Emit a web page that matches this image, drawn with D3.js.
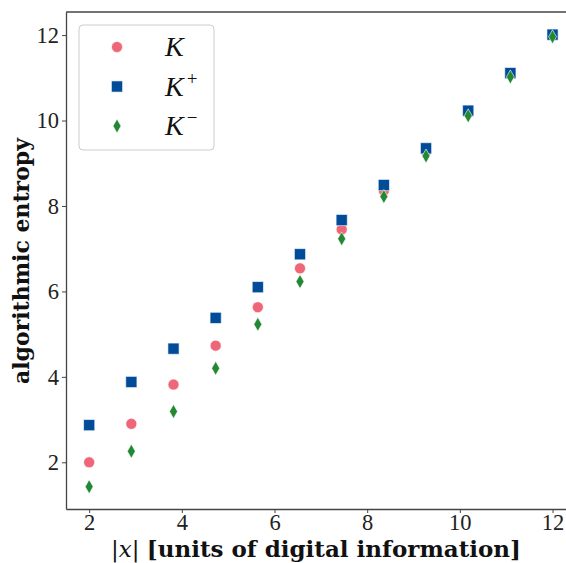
<!DOCTYPE html>
<html>
<head>
<meta charset="utf-8">
<script src="https://cdn.jsdelivr.net/npm/d3@7"></script>
<style>
  body { margin: 0; background: #fff; }
  svg { display: block; }
</style>
</head>
<body>
<script>
// values
var sizes = [2.00, 2.91, 3.82, 4.73, 5.64, 6.55, 7.45, 8.36, 9.27, 10.18, 11.09, 12.00];
var kVals = [2.00, 2.90, 3.82, 4.73, 5.63, 6.54, 7.45, 8.36, 9.27, 10.18, 11.09, 12.00];
var kPlus = [2.87, 3.88, 4.66, 5.38, 6.10, 6.87, 7.67, 8.49, 9.35, 10.23, 11.11, 12.01];
var kMinus = [1.43, 2.26, 3.19, 4.20, 5.23, 6.23, 7.23, 8.22, 9.17, 10.11, 11.02, 11.96];
var xTicks = [2, 4, 6, 8, 10, 12];
var yTicks = [2, 4, 6, 8, 10, 12];
var seriesNames = ["K", "K+", "K\u2212"];

(function(){
    var width = 566, height = 563;
    var margin = {left: 66, top: 12, bottom: 54};

    var svg = d3.select("body").append("svg")
        .attr("width", width)
        .attr("height", height);

    // x scale runs past the right edge of the window, as in the reference
    var x = d3.scaleLinear().domain([1.5, 12.5]).range([margin.left, 575.7]);
    var y = d3.scaleLinear().domain([0.907, 12.54]).range([height - margin.bottom, margin.top]);

    var tickFont = "'Liberation Serif', 'DejaVu Serif', serif";
    var labelFont = "'DejaVu Serif', 'Liberation Serif', serif";

    // axes
    var xAxis = svg.append("g")
        .attr("transform", "translate(0," + (height - margin.bottom) + ")")
        .call(d3.axisBottom(x).tickValues(xTicks).tickSize(4).tickSizeOuter(0).tickPadding(2).tickFormat(d3.format("d")));
    var yAxis = svg.append("g")
        .attr("transform", "translate(" + margin.left + ",0)")
        .call(d3.axisLeft(y).tickValues(yTicks).tickSize(4).tickSizeOuter(0).tickPadding(3).tickFormat(d3.format("d")));

    [xAxis, yAxis].forEach(function(g){
        g.select(".domain").attr("stroke", "#444").attr("stroke-width", 1.3);
        g.selectAll(".tick line").attr("stroke", "#444").attr("stroke-width", 1);
        g.selectAll(".tick text")
            .attr("fill", "#222")
            .style("font-family", tickFont)
            .style("font-size", "22.5px");
    });
    xAxis.selectAll(".tick text").attr("dy", "0.66em");

    // top spine (right spine falls outside the window)
    svg.append("line")
        .attr("x1", margin.left).attr("x2", width)
        .attr("y1", margin.top).attr("y2", margin.top)
        .attr("stroke", "#444").attr("stroke-width", 1.3);

    // axis labels
    var xl = svg.append("text")
        .attr("x", 316)
        .attr("y", 557)
        .attr("text-anchor", "middle")
        .style("font-family", labelFont)
        .style("font-size", "23px")
        .attr("fill", "#111");
    xl.append("tspan").style("font-weight", "300").text("|");
    xl.append("tspan").style("font-style", "italic").text("x");
    xl.append("tspan").style("font-weight", "300").text("| ");
    xl.append("tspan").style("font-weight", "bold").text("[units of digital information]");

    svg.append("text")
        .attr("transform", "translate(29," + 261 + ") rotate(-90)")
        .attr("text-anchor", "middle")
        .style("font-family", labelFont)
        .style("font-size", "22px")
        .style("font-weight", "bold")
        .attr("fill", "#111")
        .text("algorithmic entropy");

    var colors = ["#EE6677", "#004C99", "#228833"];
    var symbols = [d3.symbolCircle, d3.symbolSquare, null];
    var areas = [95, 125, 0];

    // thin diamond path, centered on 0,0
    function diamond(w, h) {
        return "M0," + (-h / 2) + "L" + (w / 2) + ",0L0," + (h / 2) + "L" + (-w / 2) + ",0Z";
    }
    function markerPath(i) {
        if (i === 2) return diamond(8, 14);
        return d3.symbol().type(symbols[i]).size(areas[i])();
    }

    var allSeries = [kVals, kPlus, kMinus];
    allSeries.forEach(function(vals, i){
        svg.append("g").selectAll("path")
            .data(vals)
            .enter()
            .append("path")
            .attr("d", markerPath(i))
            .attr("transform", function(d, j){ return "translate(" + x(sizes[j]) + "," + y(d) + ")"; })
            .attr("fill", colors[i])
            .attr("stroke", "#fff")
            .attr("stroke-width", 0.6);
    });

    // legend
    var legend = svg.append("g").attr("transform", "translate(79,25)");
    legend.append("rect")
        .attr("width", 135).attr("height", 125)
        .attr("rx", 4)
        .attr("fill", "#fff")
        .attr("stroke", "#ccc")
        .attr("stroke-width", 1);

    seriesNames.forEach(function(name, i){
        var ry = 22 + i * 39.5;
        legend.append("path")
            .attr("d", markerPath(i))
            .attr("transform", "translate(38," + ry + ")")
            .attr("fill", colors[i])
            .attr("stroke", "#fff")
            .attr("stroke-width", 0.6);
        var t = legend.append("text")
            .attr("x", 86)
            .attr("y", ry + 9)
            .style("font-family", tickFont)
            .style("font-size", "28px")
            .attr("fill", "#111");
        t.append("tspan").style("font-style", "italic").text("K");
        if (name.length > 1) {
            t.append("tspan")
                .attr("dx", 3)
                .attr("dy", -11)
                .style("font-size", "19px")
                .text(name.slice(1));
        }
    });
})();
</script>
</body>
</html>
